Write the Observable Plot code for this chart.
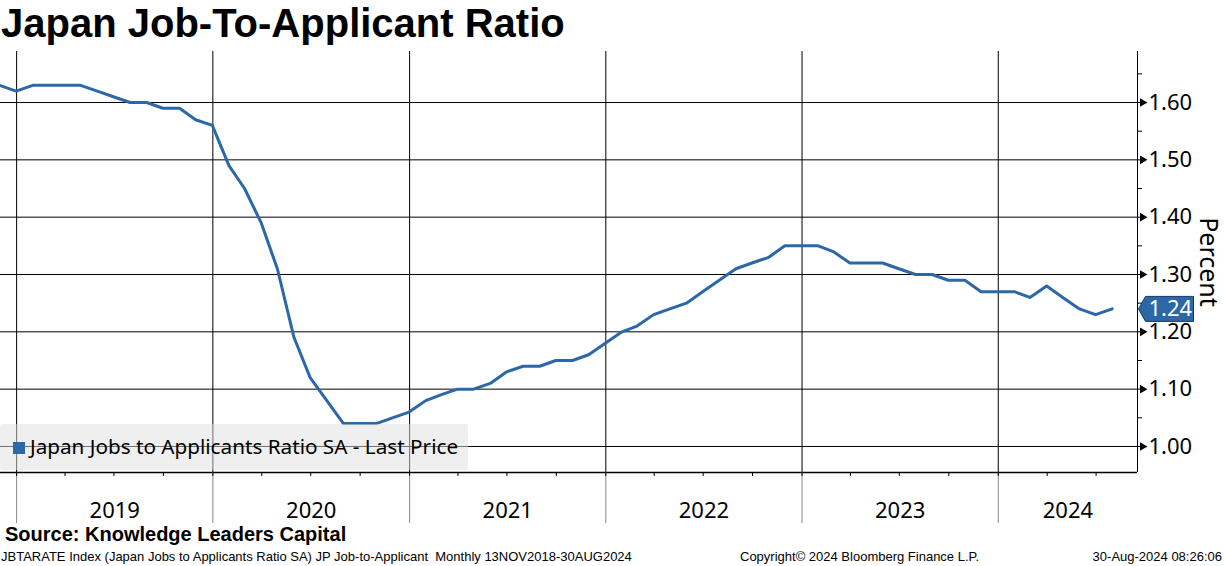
<!DOCTYPE html>
<html><head><meta charset="utf-8">
<script src="https://cdn.jsdelivr.net/npm/d3@7"></script>
<script src="https://cdn.jsdelivr.net/npm/@observablehq/plot@0.6"></script>
<style>
body{margin:0;background:#fff;}
#wrap{position:relative;width:1224px;height:566px;overflow:hidden;font-family:"Noto Sans",sans-serif;color:#000;}
.abs{position:absolute;white-space:pre;}
#chart{position:absolute;left:0;top:48px;}
</style></head><body>
<div id="wrap">
  <div id="title" class="abs" style="left:1px;top:3px;font:bold 40px/40px 'Liberation Sans',sans-serif;"></div>
  <div id="chart"></div>
  <div id="legend" class="abs" style="left:0;top:424px;width:468px;height:46px;background:rgba(224,224,224,0.5);border-radius:3px;">
    <div class="abs" id="legSwatch" style="left:13px;top:18px;width:12px;height:12px;"></div>
    <div class="abs" id="legText" style="left:30px;top:12px;font-size:20.7px;line-height:21px;"></div>
  </div>
  <div id="source" class="abs" style="left:5px;top:524px;font:bold 20px/20px 'Liberation Sans',sans-serif;"></div>
  <div id="footL" class="abs" style="left:1px;top:550px;font:13px/13px 'Liberation Sans',sans-serif;"></div>
  <div id="footC" class="abs" style="left:740px;top:550px;font:13px/13px 'Liberation Sans',sans-serif;"></div>
  <div id="footR" class="abs" style="right:2px;top:550px;font:13px/13px 'Liberation Sans',sans-serif;"></div>
</div>
<script>
const titleText = "Japan Job-To-Applicant Ratio";
const seriesName = "Japan Jobs to Applicants Ratio SA - Last Price";
const sourceText = "Source: Knowledge Leaders Capital";
const footerLeft = "JBTARATE Index (Japan Jobs to Applicants Ratio SA) JP Job-to-Applicant  Monthly 13NOV2018-30AUG2024";
const footerCenter = "Copyright\u00A9 2024 Bloomberg Finance L.P.";
const footerRight = "30-Aug-2024 08:26:06";
const axisTitle = "Percent";

// monthly observations, Nov 2018 .. Jul 2024
const firstMonth = "2018-11-01";
const ratio = [
  1.63, 1.62,
  1.63, 1.63, 1.63, 1.63, 1.62, 1.61, 1.60, 1.60, 1.59, 1.59, 1.57, 1.56,
  1.49, 1.45, 1.39, 1.31, 1.19, 1.12, 1.08, 1.04, 1.04, 1.04, 1.05, 1.06,
  1.08, 1.09, 1.10, 1.10, 1.11, 1.13, 1.14, 1.14, 1.15, 1.15, 1.16, 1.18,
  1.20, 1.21, 1.23, 1.24, 1.25, 1.27, 1.29, 1.31, 1.32, 1.33, 1.35, 1.35,
  1.35, 1.34, 1.32, 1.32, 1.32, 1.31, 1.30, 1.30, 1.29, 1.29, 1.27, 1.27,
  1.27, 1.26, 1.28, 1.26, 1.24, 1.23, 1.24
];
const yTicks = [1.00, 1.10, 1.20, 1.30, 1.40, 1.50, 1.60];
const yMinorTicks = [1.05, 1.15, 1.25, 1.35, 1.45, 1.55, 1.65];
const yearLabels = [2019, 2020, 2021, 2022, 2023, 2024];
const xDomain = [new Date("2018-12-02"), new Date("2024-09-16")];
const yDomain = [0.9546, 1.689];
const lineColor = "#2c68a8";

document.getElementById("title").textContent = titleText;
document.getElementById("legText").textContent = seriesName;
document.getElementById("legSwatch").style.background = lineColor;
document.getElementById("source").textContent = sourceText;
document.getElementById("footL").textContent = footerLeft;
document.getElementById("footC").textContent = footerCenter;
document.getElementById("footR").textContent = footerRight;

const start = new Date(firstMonth);
// each monthly value is stamped at month end
const data = ratio.map((v, i) => ({
  date: d3.utcDay.offset(d3.utcMonth.offset(start, i + 1), -1),
  value: v
}));
const last = data[data.length - 1];

const yearStarts = yearLabels.map(y => new Date(Date.UTC(y, 0, 1)));
const quarterTicks = d3.utcMonth.every(3).range(xDomain[0], xDomain[1]);
const labelDates = yearLabels.map(y => {
  const a = Math.max(+new Date(Date.UTC(y, 0, 1)), +xDomain[0]);
  const b = Math.min(+new Date(Date.UTC(y + 1, 0, 1)), +xDomain[1]);
  return new Date((a + b) / 2);
});

const tagSymbol = {
  draw(ctx) {
    ctx.moveTo(1, 0);
    ctx.lineTo(8, -12.5);
    ctx.lineTo(56, -12.5);
    ctx.lineTo(56, 12.5);
    ctx.lineTo(8, 12.5);
    ctx.closePath();
  }
};

const chart = Plot.plot({
  width: 1224,
  height: 475,
  marginTop: 3,
  marginBottom: 51,
  marginLeft: 0,
  marginRight: 87,
  style: {fontFamily: "'Noto Sans', sans-serif", fontSize: "22px", color: "#000", background: "transparent", overflow: "visible"},
  x: {type: "utc", domain: xDomain, label: null},
  y: {domain: yDomain, label: null},
  marks: [
    Plot.gridX(yearStarts, {stroke: "#000", strokeOpacity: 1, strokeWidth: 1}),
    Plot.gridY(yTicks, {stroke: "#000", strokeOpacity: 1, strokeWidth: 1}),
    Plot.ruleX([xDomain[1]], {stroke: "#000", strokeWidth: 1}),
    Plot.ruleY([yDomain[0]], {stroke: "#000", strokeWidth: 1.5}),
    Plot.axisX(yearStarts, {tickSize: 51, stroke: "#8a8a8a", tickFormat: () => ""}),
    Plot.axisX(quarterTicks, {tickSize: 4, stroke: "#000", tickFormat: () => ""}),
    Plot.axisX(labelDates, {tickSize: 0, tickPadding: 30, tickFormat: d3.utcFormat("%Y"), fontSize: 22}),
    Plot.axisY(yTicks, {anchor: "right", tickSize: 5, tickPadding: 6, tickFormat: d3.format(".2f"), fontSize: 22}),
    Plot.axisY(yMinorTicks, {anchor: "right", tickSize: 4, tickFormat: () => ""}),
    Plot.dot(yTicks, {y: d => d, frameAnchor: "right", dx: 5, symbol: "triangle", rotate: 90, r: 3.2, fill: "#000", stroke: "none"}),
    Plot.line(data, {x: "date", y: "value", stroke: lineColor, strokeWidth: 3, strokeLinejoin: "round"}),
    Plot.dot([last], {y: "value", frameAnchor: "right", symbol: tagSymbol, r: 5, fill: lineColor, stroke: "#16375e", strokeWidth: 1}),
    Plot.text([last], {y: "value", frameAnchor: "right", dx: 11, text: d => d.value.toFixed(2), textAnchor: "start", fill: "#fff", fontSize: 22}),
    Plot.text([axisTitle], {frameAnchor: "right", dx: 70, rotate: 90, textAnchor: "middle", text: d => d, fontSize: 25})
  ]
});
document.getElementById("chart").appendChild(chart);
</script>
</body></html>
